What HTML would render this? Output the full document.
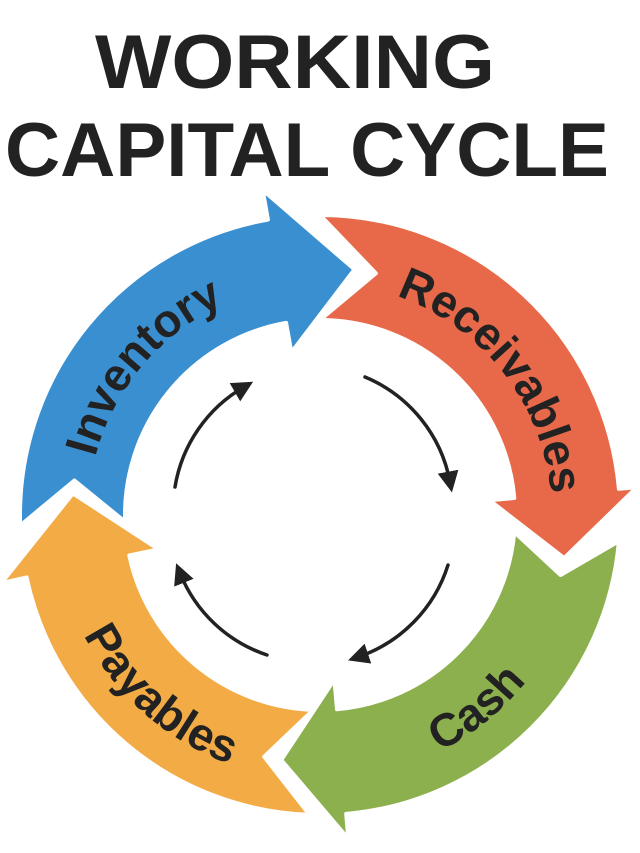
<!DOCTYPE html>
<html><head><meta charset="utf-8"><style>html,body{margin:0;padding:0;background:#fff}svg{display:block}</style></head>
<body>
<svg width="640" height="853" viewBox="0 0 640 853" xmlns="http://www.w3.org/2000/svg">
<defs>
<marker id="ah" markerWidth="6" markerHeight="6" refX="3" refY="3" orient="auto" markerUnits="strokeWidth">
<path d="M0,0 L6,3 L0,6 Z" fill="#222"/></marker>
<path id="p1" d="M88,510.9 A232 232 0 0 1 275.7,287.3"/>
<path id="p2" d="M360.3,286.5 A232 232 0 0 1 551.4,531.2"/>
<path id="p3" d="M361.4,776.7 A265 265 0 0 0 567.4,610.0"/>
<path id="p4" d="M58.3,556.4 A265 265 0 0 0 310.8,779.8"/>
</defs>
<g font-family="Liberation Sans, sans-serif" font-weight="bold" fill="#222" text-anchor="middle">
<text x="295" y="88" font-size="76" textLength="400" lengthAdjust="spacingAndGlyphs">WORKING</text>
<text x="307" y="176" font-size="76" textLength="604" lengthAdjust="spacingAndGlyphs">CAPITAL CYCLE</text>
</g>
<g stroke="#fff" stroke-width="4" stroke-linejoin="round">
<path fill="#f2ab45" d="M309.5,814.8 A300 300 0 0 1 26.6,577.4 L1.2,583.2 L72.9,493.4 L158.6,549.3 L129.3,555.5 A195 195 0 0 0 313.2,709.9 L264.2,756.7 Z"/>
<path fill="#3a8fd0" d="M20.2,525.5 A300 300 0 0 1 267.9,219.6 L262.7,190 L354.5,269.4 L291.4,352.5 L286.1,322.9 A195 195 0 0 0 125.1,521.8 L74.4,480.5 Z"/>
<path fill="#e8694a" d="M320,215 A300 300 0 0 1 618.9,488.8 L636.8,487.3 L564.2,558.1 L489.4,500.2 L514.3,498.0 A195 195 0 0 0 320,320 L375.8,273.3 Z"/>
<path fill="#8db04f" d="M618.9,541.2 A300 300 0 0 1 346.2,813.9 L348.3,838.8 L281.2,760.0 L334.4,679.4 L337.0,709.3 A195 195 0 0 0 514.3,532.0 L560.6,575.0 Z"/>
</g>
<g font-family="Liberation Sans, sans-serif" font-weight="bold" font-size="46" fill="#222" text-anchor="middle">
<text><textPath href="#p1" startOffset="50%">Inventory</textPath></text>
<text><textPath href="#p2" startOffset="50%">Receivables</textPath></text>
<text><textPath href="#p3" startOffset="50%">Cash</textPath></text>
<text><textPath href="#p4" startOffset="50%">Payables</textPath></text>
</g>
<g fill="none" stroke="#222" stroke-width="3.5" stroke-linecap="round" marker-end="url(#ah)">
<path d="M175,487 A142 142 0 0 1 244,387"/>
<path d="M365,377 A142 142 0 0 1 450,482"/>
<path d="M448,565 A142 142 0 0 1 358,657"/>
<path d="M267,655 A142 142 0 0 1 180,573"/>
</g>
</svg>
</body></html>
